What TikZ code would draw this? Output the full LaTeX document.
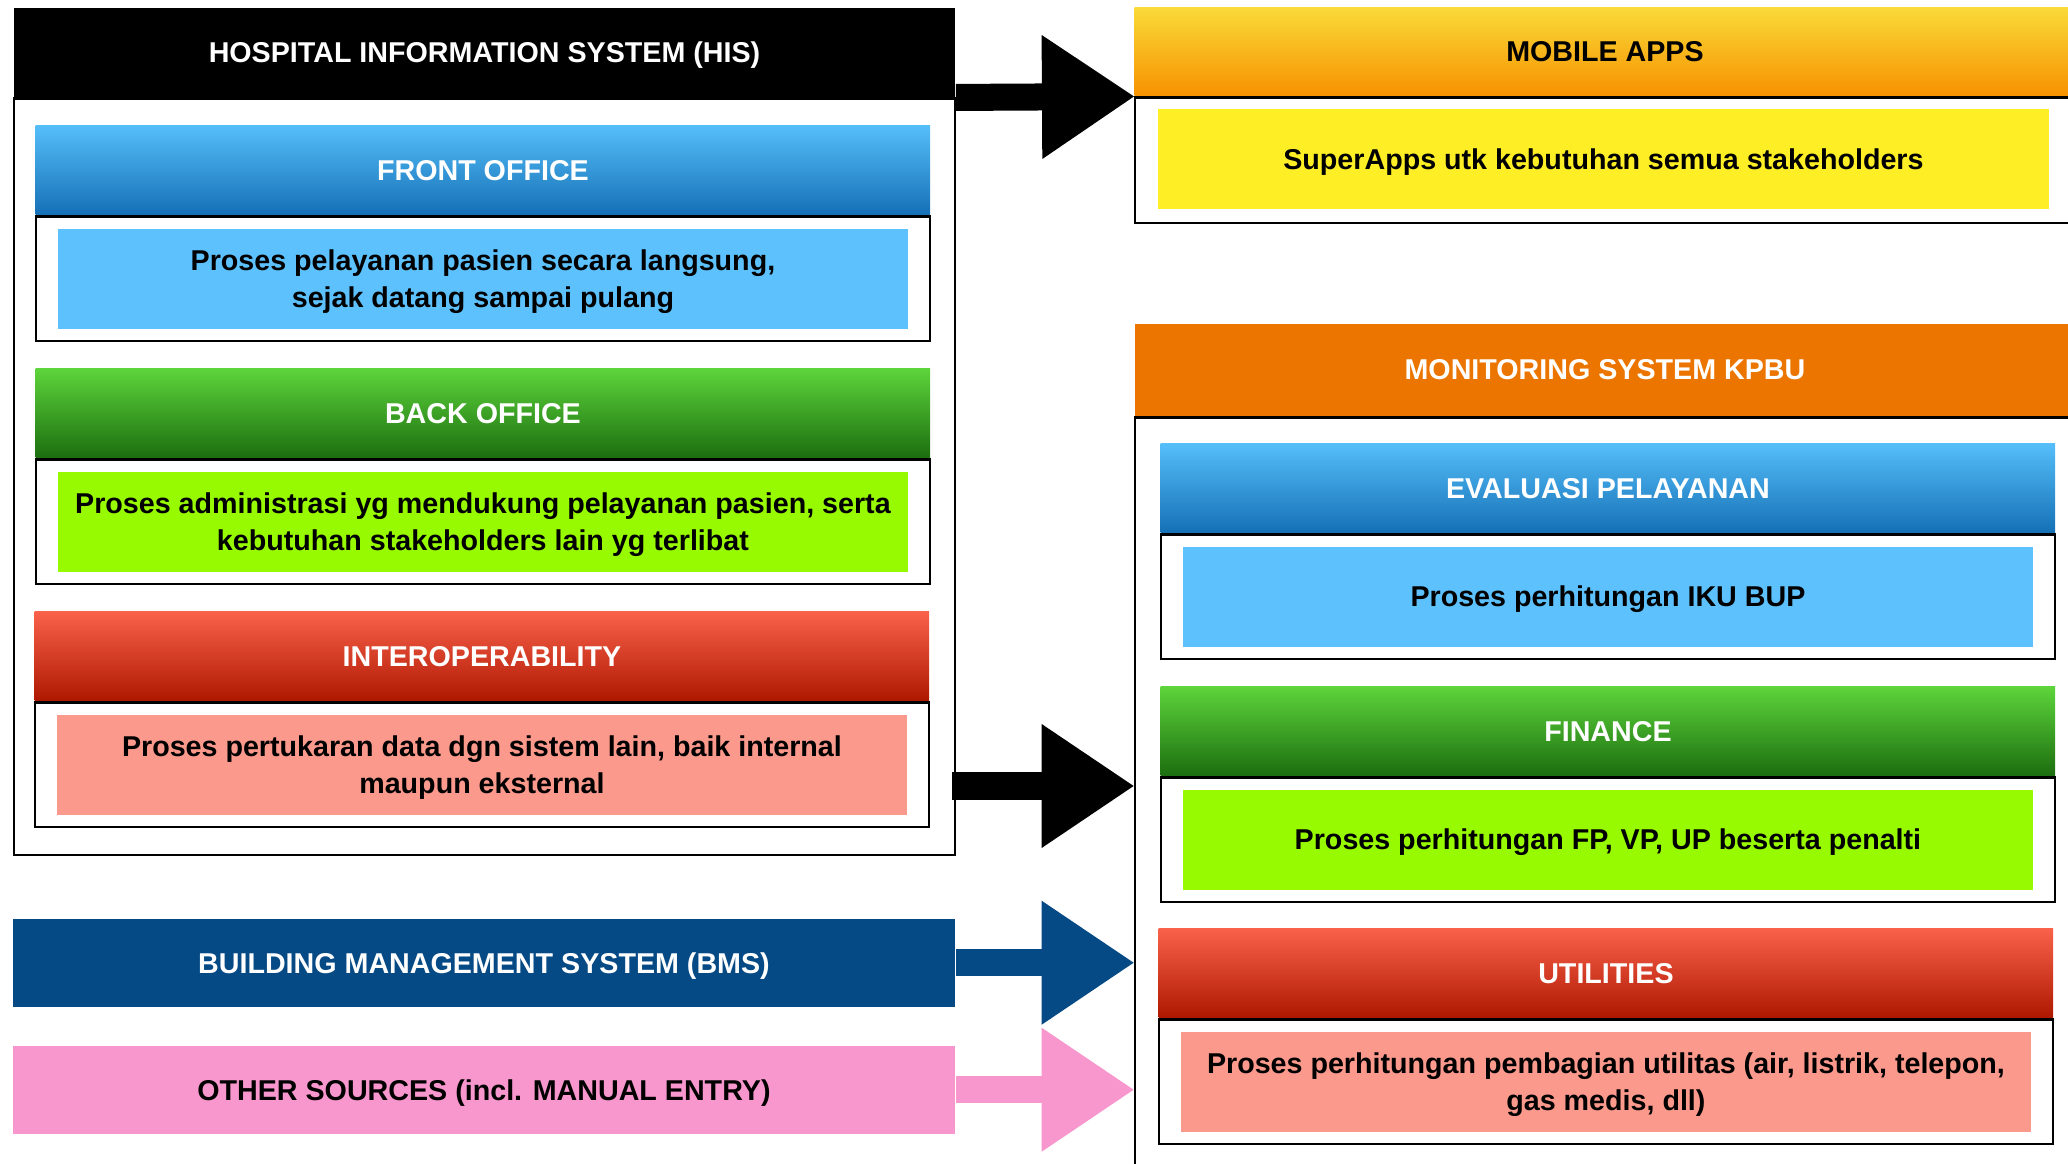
\documentclass[tikz,border=0pt]{standalone}
\usepackage{fontspec}
\setmainfont{Liberation Sans}
\usetikzlibrary{positioning,arrows.meta}
\definecolor{foTop}{HTML}{55BEF9}
\definecolor{foBot}{HTML}{1570B6}
\definecolor{boTop}{HTML}{5DD43B}
\definecolor{boBot}{HTML}{1C6E0F}
\definecolor{ioTop}{HTML}{F9614B}
\definecolor{ioBot}{HTML}{AF1800}
\definecolor{mobTop}{HTML}{F9DA38}
\definecolor{mobBot}{HTML}{F79200}
\definecolor{monOrange}{HTML}{EC7500}
\definecolor{inBlue}{HTML}{5CC1FC}
\definecolor{inGreen}{HTML}{98FA00}
\definecolor{inSalmon}{HTML}{FB998C}
\definecolor{inYellow}{HTML}{FEEE25}
\definecolor{bmsBlue}{HTML}{064A85}
\definecolor{othPink}{HTML}{F797CD}
\begin{document}
\begin{tikzpicture}[x=0.01cm, y=-0.01cm, line join=miter,
	font=\fontsize{8.15}{10.5}\selectfont\bfseries,
	hdr/.style={anchor=north west, inner sep=0pt, text depth=0pt, minimum width=8.94cm, minimum height=0.89cm, text=white},
	boxframe/.style={draw, line width=0.6pt, inner sep=0pt, minimum width=8.94cm, minimum height=1.24cm},
	inbox/.style={inner sep=0pt, text depth=0pt, minimum width=8.49cm, minimum height=1cm, align=center},
	bigarrow/.style={line width=0.27cm, -{Triangle[length=0.92cm, width=1.24cm, line width=0pt]}}]
	\useasboundingbox (0,0) rectangle (2068,1164);
	% left side: HIS
	\node[hdr, fill=black, minimum width=9.41cm] (his) at (13,7) {HOSPITAL INFORMATION SYSTEM (HIS)};
	\node[boxframe, minimum width=9.41cm, minimum height=7.56cm, below=0pt of his] (hisf) {};
	\node[hdr, top color=foTop, bottom color=foBot] (fo) at (35,125) {FRONT OFFICE};
	\node[boxframe, below=0pt of fo] (fob) {};
	\node[inbox, fill=inBlue] (foi) at (fob) {Proses pelayanan pasien secara langsung,\\sejak datang sampai pulang};
	\node[hdr, top color=boTop, bottom color=boBot] (bo) at (35,368) {BACK OFFICE};
	\node[boxframe, below=0pt of bo] (bob) {};
	\node[inbox, fill=inGreen] (boi) at (bob) {Proses administrasi yg mendukung pelayanan pasien, serta\\kebutuhan stakeholders lain yg terlibat};
	\node[hdr, top color=ioTop, bottom color=ioBot] (io) at (34,611) {INTEROPERABILITY};
	\node[boxframe, below=0pt of io] (iob) {};
	\node[inbox, fill=inSalmon] (ioi) at (iob) {Proses pertukaran data dgn sistem lain, baik internal\\maupun eksternal};
	% other sources
	\node[hdr, fill=bmsBlue, minimum width=9.42cm, minimum height=0.88cm] (bms) at (12,918) {BUILDING MANAGEMENT SYSTEM (BMS)};
	\node[hdr, fill=othPink, text=black, minimum width=9.42cm, minimum height=0.88cm] (oth) at (12,1045) {OTHER SOURCES (incl. MANUAL ENTRY)};
	% right side
	\node[hdr, top color=mobTop, bottom color=mobBot, text=black, minimum width=9.4cm, minimum height=0.88cm] (mob) at (1134,7) {MOBILE APPS};
	\node[boxframe, minimum width=9.4cm, minimum height=1.25cm, below=0pt of mob] (mobf) {};
	\node[inbox, fill=inYellow, minimum width=8.91cm, anchor=north west] (mobi) at (1157,108) {SuperApps utk kebutuhan semua stakeholders};
	\node[hdr, fill=monOrange, minimum width=9.4cm, minimum height=0.92cm] (mon) at (1134,323) {MONITORING SYSTEM KPBU};
	\node[boxframe, minimum width=9.4cm, minimum height=8cm, below=0pt of mon] (monf) {};
	\node[hdr, top color=foTop, bottom color=foBot] (ev) at (1160,443) {EVALUASI PELAYANAN};
	\node[boxframe, below=0pt of ev] (evb) {};
	\node[inbox, fill=inBlue] (evi) at (evb) {Proses perhitungan IKU BUP};
	\node[hdr, top color=boTop, bottom color=boBot] (fin) at (1160,686) {FINANCE};
	\node[boxframe, below=0pt of fin] (finb) {};
	\node[inbox, fill=inGreen] (fini) at (finb) {Proses perhitungan FP, VP, UP beserta penalti};
	\node[hdr, top color=ioTop, bottom color=ioBot] (ut) at (1158,928) {UTILITIES};
	\node[boxframe, below=0pt of ut] (utb) {};
	\node[inbox, fill=inSalmon] (uti) at (utb) {Proses perhitungan pembagian utilitas (air, listrik, telepon,\\gas medis, dll)};
	% arrows
	\coordinate (hisOut) at (952,786);
	\draw[bigarrow] (his.south east) -- (mob.south west);
	\draw[bigarrow] (hisOut) -- (hisOut -| monf.west);
	\draw[bigarrow, bmsBlue] (bms.east) -- (bms.east -| monf.west);
	\draw[bigarrow, othPink] (oth.east) -- (oth.east -| monf.west);
\end{tikzpicture}
\end{document}
